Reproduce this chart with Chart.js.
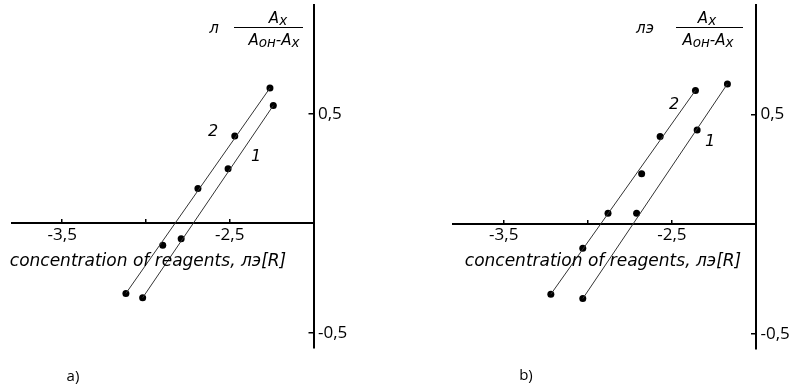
<!DOCTYPE html>
<html>
<head>
<meta charset="utf-8">
<script src="https://cdn.jsdelivr.net/npm/chart.js"></script>
<style>
  body { margin: 0; background: #fff; }
  #wrap { position: relative; width: 799px; height: 390px; overflow: hidden; font-family: 'Open Sans', sans-serif; color: #000; }
  .box { position: absolute; top: 0; height: 390px; }
  .t { position: absolute; transform: translate(-50%, -50%); white-space: nowrap; line-height: 1; }
  .i { font-style: italic; font-family: 'DejaVu Sans', sans-serif; }
  .bar { position: absolute; height: 1px; background: #000; }
  sub { font-size: 0.9em; vertical-align: -0.22em; line-height: 0; }
</style>
</head>
<body>
<div id="wrap">
  <div class="box" style="left:0;width:400px"><canvas id="chartA" width="400" height="390"></canvas></div>
  <div class="box" style="left:400px;width:399px"><canvas id="chartB" width="399" height="390"></canvas></div>

  <!-- panel a -->
  <div class="t i" style="left:214px;top:28px;font-size:15px">л</div>
  <div class="t i" style="left:278px;top:18px;font-size:15px">A<sub>x</sub></div>
  <div class="bar" style="left:234px;top:27px;width:69px"></div>
  <div class="t i" style="left:274px;top:40px;font-size:15px">A<sub>он</sub>-A<sub>x</sub></div>
  <div class="t i" style="left:213px;top:131px;font-size:16px">2</div>
  <div class="t i" style="left:256px;top:156px;font-size:16px">1</div>
  <div class="t i" style="left:148px;top:260px;font-size:17px">concentration of reagents, лэ[R]</div>
  <div class="t" style="left:73px;top:375px;font-size:15px">a)</div>

  <!-- panel b -->
  <div class="t i" style="left:645px;top:28px;font-size:15px">лэ</div>
  <div class="t i" style="left:707px;top:18px;font-size:15px">A<sub>x</sub></div>
  <div class="bar" style="left:676px;top:27px;width:67px"></div>
  <div class="t i" style="left:708px;top:40px;font-size:15px">A<sub>он</sub>-A<sub>x</sub></div>
  <div class="t i" style="left:674px;top:104px;font-size:16px">2</div>
  <div class="t i" style="left:710px;top:141px;font-size:16px">1</div>
  <div class="t i" style="left:603px;top:260px;font-size:17px">concentration of reagents, лэ[R]</div>
  <div class="t" style="left:526px;top:374px;font-size:15px">b)</div>
</div>

<script>
// ticks
const xTicks = [-3.5, -3.0, -2.5];
const xTickLabels = ['-3,5', '', '-2,5'];
const yTicks = [-0.5, 0.5];
const yTickLabels = ['-0,5', '0,5'];

// panel a, curve 1 and curve 2
const aX1 = [-3.02, -2.79, -2.51, -2.24];
const aY1 = [-0.34, -0.07, 0.25, 0.54];
const aX2 = [-3.12, -2.90, -2.69, -2.47, -2.26];
const aY2 = [-0.32, -0.10, 0.16, 0.40, 0.62];

// panel b, curve 1 and curve 2
const bX1 = [-3.03, -2.71, -2.35, -2.17];
const bY1 = [-0.34, 0.05, 0.43, 0.64];
const bX2 = [-3.22, -3.03, -2.88, -2.68, -2.57, -2.36];
const bY2 = [-0.32, -0.11, 0.05, 0.23, 0.40, 0.61];

const toPts = (xs, ys) => xs.map((x, i) => ({ x, y: ys[i] }));
// straight line drawn through the lowest and the highest point
const ends = (xs, ys) => [{ x: xs[0], y: ys[0] }, { x: xs[xs.length - 1], y: ys[ys.length - 1] }];

function lineSet(pts) {
    return { data: pts, showLine: true, borderColor: '#333', borderWidth: 1, pointRadius: 0 };
}
function dotSet(pts) {
    return { data: pts, showLine: false, pointRadius: 3.5, backgroundColor: '#000', borderColor: '#000', borderWidth: 0 };
}

function makeChart(id, x1, y1, x2, y2, pad) {
    new Chart(document.getElementById(id), {
        type: 'scatter',
        data: {
            datasets: [
                lineSet(ends(x1, y1)),
                lineSet(ends(x2, y2)),
                dotSet(toPts(x1, y1)),
                dotSet(toPts(x2, y2))
            ]
        },
        options: {
            responsive: false,
            animation: false,
            layout: { padding: pad },
            plugins: { legend: { display: false }, tooltip: { enabled: false } },
            scales: {
                x: {
                    type: 'linear',
                    min: -3.8,
                    max: -2.0,
                    position: { y: 0 },
                    afterBuildTicks: s => { s.ticks = xTicks.map(v => ({ value: v })); },
                    afterFit: s => { s.paddingLeft = 0; s.paddingRight = 0; },
                    ticks: {
                        callback: (v, i) => xTickLabels[i],
                        color: '#000',
                        padding: 6,
                        maxRotation: 0,
                        autoSkip: false,
                        font: { family: 'Open Sans', size: 17 }
                    },
                    grid: { drawOnChartArea: false, drawTicks: true, tickLength: -5, color: '#000', lineWidth: 1.5 },
                    border: { display: true, color: '#000', width: 2 }
                },
                y: {
                    type: 'linear',
                    min: -0.57,
                    max: 1.0,
                    position: 'right',
                    afterBuildTicks: s => { s.ticks = yTicks.map(v => ({ value: v })); },
                    afterFit: s => { s.width = 40; s.paddingTop = 0; s.paddingBottom = 0; },
                    ticks: {
                        callback: (v, i) => yTickLabels[i],
                        color: '#000',
                        padding: 9.5,
                        autoSkip: false,
                        font: { family: 'Open Sans', size: 17 }
                    },
                    grid: { drawOnChartArea: false, drawTicks: true, tickLength: -5, color: '#000', lineWidth: 1.5 },
                    border: { display: true, color: '#000', width: 2 }
                }
            }
        }
    });
}

makeChart('chartA', aX1, aY1, aX2, aY2, { left: 12, top: 5, right: 46.5, bottom: 42 });
makeChart('chartB', bX1, bY1, bX2, bY2, { left: 53.3, top: 5, right: 3, bottom: 41 });
</script>
</body>
</html>
